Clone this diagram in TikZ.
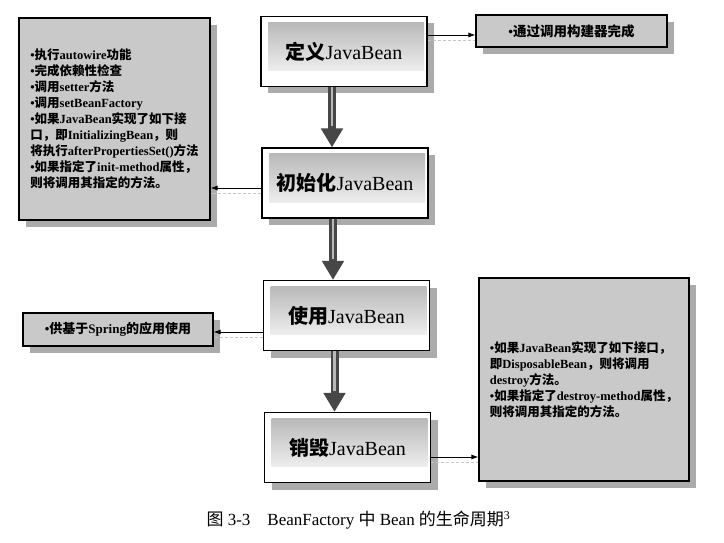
\documentclass[tikz,border=0pt]{standalone}
\usepackage{fontspec}
\setmainfont{Liberation Serif}
\newfontfamily\zhfont{Noto Sans CJK SC}
\newcommand\Z[1]{{\zhfont #1}}
\usetikzlibrary{shadows,arrows.meta,calc}
\tikzset{
  shadowstyle/.style={drop shadow={shadow xshift=7pt, shadow yshift=-7pt, fill=black!60, opacity=0.55}},
  mainbox/.style={draw=black, line width=1.2pt, fill=white, minimum width=166pt, minimum height=70pt,
    inner sep=0pt, font=\fontsize{20}{24}\selectfont, shadowstyle,
    path picture={\shade[top color=gray!60, bottom color=white]
      ([xshift=7pt,yshift=-6pt]path picture bounding box.north west) rectangle
      ([xshift=-3pt,yshift=16pt]path picture bounding box.south east);}},
  sidebox/.style={draw=black, line width=1.2pt, fill=gray!42, inner sep=0pt, align=left,
    font=\fontsize{12.5}{16}\selectfont\bfseries, shadowstyle},
  conn/.style={line width=0.8pt, -{Latex[length=7pt,width=5pt]}},
  ghost/.style={draw=gray!45, line width=0.6pt, densely dashed},
  bigarrow/.style={line width=8pt, draw=black!72, -{Triangle[length=19pt,width=21pt]}},
  core/.style={line width=2.6pt, draw=gray!55},
  caption/.style={font=\fontsize{17}{20}\selectfont, inner sep=0pt}
}
\begin{document}
\begin{tikzpicture}[x=1pt,y=-1pt]
\useasboundingbox[fill=white] (0,0) rectangle (724,543);

% main boxes
\node[mainbox] (def)  at (344,51.5)  {{\bfseries\Z{定义}}JavaBean};
\node[mainbox] (init) at (345,183)   {{\bfseries\Z{初始化}}JavaBean};
\node[mainbox] (use)  at (346.5,315.5) {{\bfseries\Z{使用}}JavaBean};
\node[mainbox] (des)  at (347.5,447.5) {{\bfseries\Z{销毁}}JavaBean};

% side boxes
\node[sidebox, minimum width=191pt, minimum height=202pt] (lt) at (114.5,119) {%
•\Z{执行}autowire\Z{功能}\\
•\Z{完成依赖性检查}\\
•\Z{调用}setter\Z{方法}\\
•\Z{调用}setBeanFactory\\
•\Z{如果}JavaBean\Z{实现了如下接}\\
\Z{口，即}InitializingBean\Z{，则}\\
\Z{将执行}afterPropertiesSet()\Z{方法}\\
•\Z{如果指定了}init-method\Z{属性，}\\
\Z{则将调用其指定的方法。}};

\node[sidebox, minimum width=191pt, minimum height=32pt, font=\fontsize{13.5}{16}\selectfont\bfseries] (rt) at (571.5,31) {•\Z{通过调用构建器完成}};

\node[sidebox, minimum width=190pt, minimum height=33pt, font=\fontsize{13}{16}\selectfont\bfseries] (lm) at (118,329.5) {•\Z{供基于}Spring\Z{的应用使用}};

\node[sidebox, minimum width=210pt, minimum height=203pt] (rb) at (584,379.5) {%
•\Z{如果}JavaBean\Z{实现了如下接口，}\\
\Z{即}DisposableBean\Z{，则将调用}\\
destroy\Z{方法。}\\
•\Z{如果指定了}destroy-method\Z{属性，}\\
\Z{则将调用其指定的方法。}};

% horizontal connectors
\coordinate (c1) at ([yshift=-4pt]rt.west);
\coordinate (g1) at ([yshift=-9pt]rt.west);
\draw[ghost] (g1 -| def.east) -- (g1);
\draw[conn] (c1 -| def.east) -- (c1);

\coordinate (c2) at ([yshift=-5pt]init.west);
\coordinate (g2) at ([yshift=-10pt]init.west);
\draw[ghost] (g2) -- (g2 -| lt.east);
\draw[conn] (c2) -- (c2 -| lt.east);

\coordinate (c3) at ([yshift=-2.5pt]lm.east);
\coordinate (g3) at ([yshift=-8pt]lm.east);
\draw[ghost] (g3 -| use.west) -- (g3);
\draw[conn] (c3 -| use.west) -- (c3);

\coordinate (c4) at ([yshift=-9.5pt]des.east);
\coordinate (g4) at ([yshift=-15pt]des.east);
\draw[ghost] (g4) -- (g4 -| rb.west);
\draw[conn] (c4) -- (c4 -| rb.west);

% vertical thick arrows
\coordinate (v1) at ([xshift=-12pt]def.south);
\draw[bigarrow] (v1) -- (v1 |- init.north);
\draw[core] (v1) -- ($(v1 |- init.north)+(0,-21)$);

\coordinate (v2) at ([xshift=-12pt]init.south);
\draw[bigarrow] (v2) -- (v2 |- use.north);
\draw[core] (v2) -- ($(v2 |- use.north)+(0,-21)$);

\coordinate (v3) at ([xshift=-12pt]use.south);
\draw[bigarrow] (v3) -- (v3 |- des.north);
\draw[core] (v3) -- ($(v3 |- des.north)+(0,-21)$);

% caption
\node[caption] (cap) at (358.5,520) {\Z{图} 3-3\quad BeanFactory \Z{中} Bean \Z{的生命周期}\textsuperscript{3}};
\end{tikzpicture}
\end{document}
